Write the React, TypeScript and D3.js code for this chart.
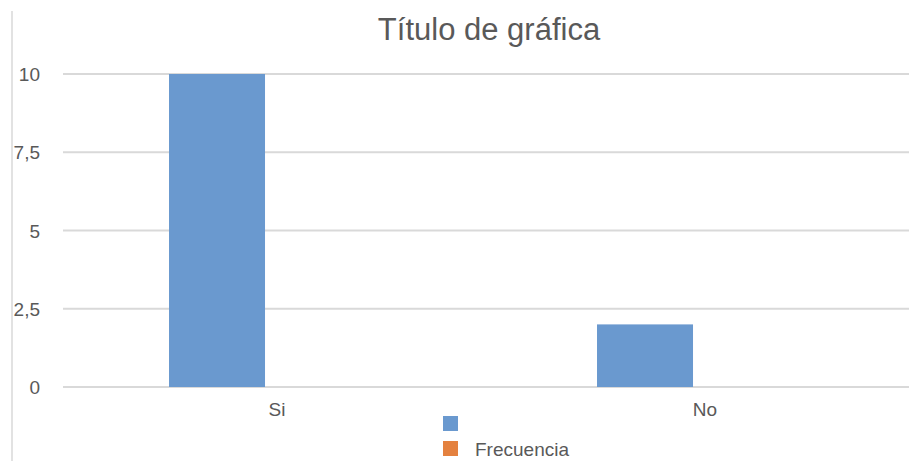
import React from "react";
import * as d3 from "d3";

const categories = ["Si", "No"];
const seriesNames = ["", "Frecuencia"];
const seriesColors = ["#6a99cf", "#e4813f"];
const blueValues = [10, 2];
const orangeValues = [0, 0];
const yTicks = [0, 2.5, 5, 7.5, 10];
const yTickLabels = ["0", "2,5", "5", "7,5", "10"];
const title = "Título de gráfica";

const W = 909;
const H = 461;
const FONT = "'Liberation Sans', Arial, sans-serif";
const TEXT = "#595959";
const GRID = "#d9d9d9";

export default function App() {
  const x = d3.scaleBand<string>().domain(categories).range([63, 919]).paddingInner(0).paddingOuter(0);
  const bw = x.bandwidth();
  const sub = d3.scaleBand<string>().domain(["0", "1"]).range([bw * 0.2477, bw * 0.2477 + 192]).padding(0);
  const y = d3.scaleLinear().domain([0, 10]).range([387, 74]);
  const series = [blueValues, orangeValues];

  return (
    <svg width={W} height={H} style={{ position: "absolute", left: 0, top: 0, background: "#fff" }}>
      <rect x={0} y={0} width={W} height={H} fill="#fff" />
      <line x1={12} x2={12} y1={11} y2={H} stroke={GRID} strokeWidth={1.5} />
      <text x={489} y={40} textAnchor="middle" fontFamily={FONT} fontSize={31} fill={TEXT}>
        {title}
      </text>
      {yTicks.map((t, i) => (
        <g key={t}>
          <line x1={63} x2={W} y1={y(t)} y2={y(t)} stroke={GRID} strokeWidth={2} />
          <text x={40} y={y(t) + 7} textAnchor="end" fontFamily={FONT} fontSize={19} fill={TEXT}>
            {yTickLabels[i]}
          </text>
        </g>
      ))}
      {categories.map((c, ci) => (
        <g key={c}>
          {series.map((vals, si) =>
            vals[ci] > 0 ? (
              <rect
                key={si}
                x={(x(c) as number) + (sub(String(si)) as number)}
                y={y(vals[ci])}
                width={sub.bandwidth()}
                height={y(0) - y(vals[ci])}
                fill={seriesColors[si]}
              />
            ) : null
          )}
          <text
            x={(x(c) as number) + bw / 2}
            y={416}
            textAnchor="middle"
            fontFamily={FONT}
            fontSize={19}
            fill={TEXT}
          >
            {c}
          </text>
        </g>
      ))}
      {seriesNames.map((n, i) => (
        <g key={i}>
          <rect x={443} y={416 + i * 25} width={15} height={15} fill={seriesColors[i]} />
          <text x={475} y={431 + i * 25} fontFamily={FONT} fontSize={19} fill={TEXT}>
            {n}
          </text>
        </g>
      ))}
    </svg>
  );
}
